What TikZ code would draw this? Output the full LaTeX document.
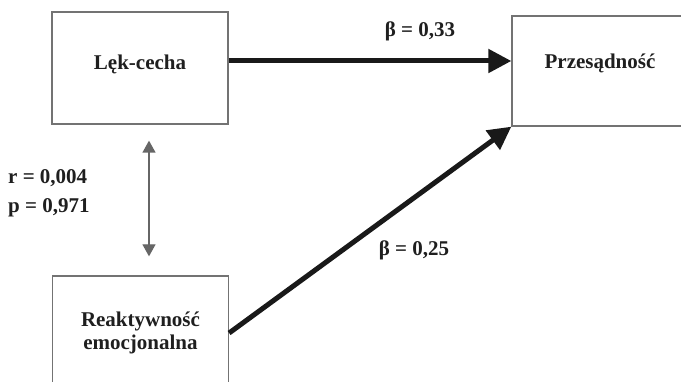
\documentclass[tikz,border=0pt]{standalone}
\usepackage{fontspec}
\setmainfont{Liberation Serif}
\usetikzlibrary{arrows.meta,calc}
\begin{document}
\begin{tikzpicture}[x=1pt,y=-1pt,
  box/.style={draw=gray!90!black,line width=1.3pt,minimum width=176pt,inner sep=0pt,
    font=\fontsize{21}{23.5}\selectfont\bfseries,text=black!88,align=center},
  lbl/.style={font=\fontsize{21}{23.5}\selectfont\bfseries,text=black!88,inner sep=0pt},
  mainarrow/.style={line width=5pt,black!90,-{Triangle[length=23pt,width=23pt]}},
  corrarrow/.style={line width=1.3pt,gray!80!black,{Triangle[length=12pt,width=13pt]}-{Triangle[length=12pt,width=13pt]}}]
\useasboundingbox (0,0) rectangle (681,382);
\clip (0,0) rectangle (681,382);
\fill[white] (0,0) rectangle (681,382);
\node[box,minimum height=112pt,text height=14pt,text depth=10pt] (lek) at (140,68) {Lęk-cecha};
\node[box,minimum height=110pt,text height=14pt,text depth=18pt] (prz) at (600,71) {Przesądność};
\node[box,minimum height=114pt] (rea) at (140.5,333) {Reaktywność\\emocjonalna};
\coordinate (hy) at (0,61);
\coordinate (ax) at (149,0);
\draw[mainarrow] (lek.east |- hy) -- (prz.west |- hy);
\draw[mainarrow] (rea.east) -- (prz.south west);
\draw[corrarrow,shorten <=16pt,shorten >=19pt] (lek.south -| ax) -- (rea.north -| ax);
\node[lbl] (b1) at (420,31) {β = 0,33};
\node[lbl] (b2) at (414,250) {β = 0,25};
\node[lbl,anchor=west] (r) at (8,178) {r = 0,004};
\node[lbl,anchor=west] (p) at (8,208) {p = 0,971};
\end{tikzpicture}
\end{document}
